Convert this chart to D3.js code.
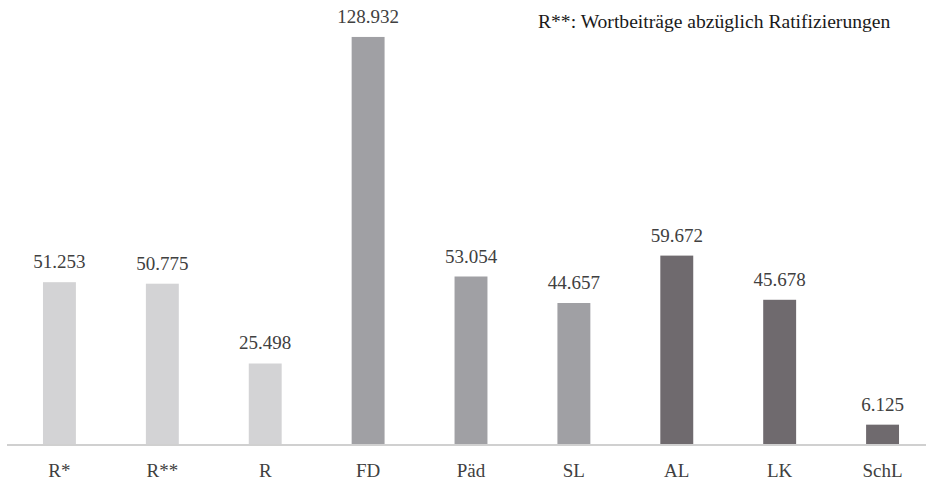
<!DOCTYPE html>
<html>
<head>
<meta charset="utf-8">
<script src="https://cdn.jsdelivr.net/npm/d3@7/dist/d3.min.js"></script>
<style>
  html, body { margin: 0; padding: 0; background: #ffffff; }
  svg { display: block; }
</style>
</head>
<body>
<svg id="chart" width="926" height="480"></svg>
<script>
// Categories and counts of word contributions
const categories = ["R*", "R**", "R", "FD", "Päd", "SL", "AL", "LK", "SchL"];
const values = [51.253, 50.775, 25.498, 128.932, 53.054, 44.657, 59.672, 45.678, 6.125];
const valueLabels = ["51.253", "50.775", "25.498", "128.932", "53.054", "44.657", "59.672", "45.678", "6.125"];
const groups = ["a", "a", "a", "b", "b", "b", "c", "c", "c"];
const note = "R**: Wortbeiträge abzüglich Ratifizierungen";

const SERIF = "'Liberation Serif', 'Times New Roman', Times, serif";
const INK = "#404040";

const svg = d3.select("#chart");

const x = d3.scaleBand()
  .domain(categories)
  .range([8, 934])
  .paddingInner(0.68)
  .paddingOuter(0.34);

const y = d3.scaleLinear()
  .domain([0, 140])
  .range([444, 2]);

const color = d3.scaleOrdinal()
  .domain(["a", "b", "c"])
  .range(["#d3d3d5", "#a0a0a4", "#6f6a6e"]);

// bars
svg.append("g")
  .selectAll("rect")
  .data(categories)
  .join("rect")
  .attr("x", d => x(d))
  .attr("width", x.bandwidth())
  .attr("y", (d, i) => y(values[i]))
  .attr("height", (d, i) => y(0) - y(values[i]))
  .attr("fill", (d, i) => color(groups[i]));

// value labels above bars
svg.append("g")
  .selectAll("text")
  .data(categories)
  .join("text")
  .attr("x", d => x(d) + x.bandwidth() / 2)
  .attr("y", (d, i) => y(values[i]) - 14)
  .attr("text-anchor", "middle")
  .attr("font-family", SERIF)
  .attr("font-size", 19)
  .attr("fill", INK)
  .text((d, i) => valueLabels[i]);

// category axis
const axis = svg.append("g")
  .attr("transform", `translate(0, ${y(0) + 1})`)
  .call(d3.axisBottom(x).tickSize(0).tickPadding(19));
axis.attr("font-family", SERIF).attr("font-size", 19);
axis.select(".domain")
  .attr("d", "M7,0H926")
  .attr("stroke", "#d0d0d0")
  .attr("stroke-width", 2);
axis.selectAll("text")
  .attr("font-family", SERIF)
  .attr("font-size", 19)
  .attr("fill", INK);

// note
svg.append("text")
  .attr("x", 538)
  .attr("y", 28)
  .attr("font-family", SERIF)
  .attr("font-size", 19.6)
  .attr("fill", "#1a1a1a")
  .text(note);
</script>
</body>
</html>
